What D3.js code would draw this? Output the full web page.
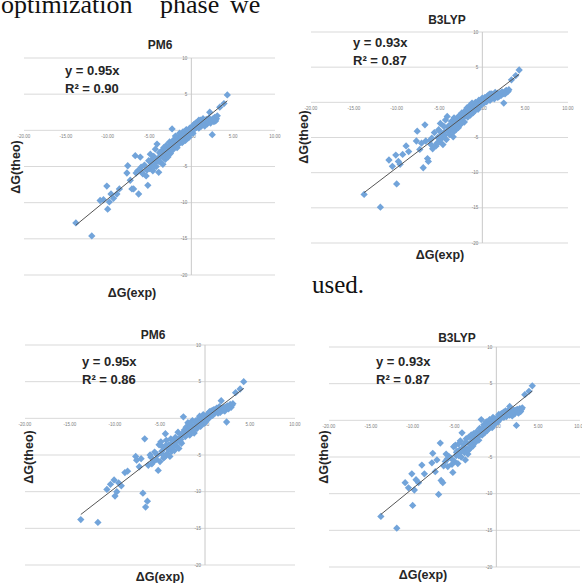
<!DOCTYPE html>
<html>
<head>
<meta charset="utf-8">
<script src="https://cdn.jsdelivr.net/npm/d3@7/dist/d3.min.js"></script>
<style>
    body { margin: 0; background: #fff; }
    svg { display: block; }
</style>
</head>
<body>
<div id="chart"></div>
<script>
// experimental dG, shared by all four panels
const dgExp = [
    -13.8, -11.9, -10.9, -10.5, -10.1, -10.0, -9.8, -9.6, -9.3, -8.9, -8.6,
    -7.7, -7.6, -7.3, -7.1, -6.9, -6.7, -6.6, -6.4, -6.3, -6.1, -6.0, -5.8, -5.6,
    -5.4, -5.2, -5.1, -5.0, -4.9, -4.8, -4.7, -4.6, -4.5, -4.4, -4.3, -4.2, -4.1, -4.0, -3.9, -3.8,
    -3.7, -3.6, -3.5, -3.4, -3.3, -3.2, -3.1, -3.0, -2.9, -2.8, -2.7, -2.6, -2.5, -2.4, -2.3, -2.2, -2.1,
    -2.0, -1.9, -1.8, -1.7, -1.6, -1.5, -1.4, -1.3, -1.2, -1.1, -1.0, -0.9, -0.8, -0.7, -0.6, -0.5,
    -0.4, -0.3, -0.2, -0.1, 0.0,
    0.1, 0.2, 0.3, 0.4, 0.5, 0.6, 0.7, 0.8, 0.9, 1.0, 1.1, 1.2, 1.3, 1.4, 1.5, 1.6, 1.7, 1.8, 1.9, 2.0,
    2.1, 2.2, 2.3, 2.4, 2.5, 2.6, 2.7, 2.8, 2.9, 3.0, 3.1,
    3.4, 3.9, 4.3,
    -4.75, -4.35, -3.95, -3.65, -3.35, -3.05, -2.75, -2.45, -2.15, -1.85, -1.55, -1.25, -0.95, -0.65,
    -0.35, -0.05, 0.25, 0.55, 0.85, 1.15, 1.45, 1.75, 2.05, 2.35, 2.65, -5.3, -5.9, -4.5, -1.0, 0.9, 1.6
];

const pm6TheoTop = [
    -12.8, -14.6, -9.7, -9.6, -7.7, -10.9, -9.9, -8.8, -9.4, -8.8, -8.1,
    -5.9, -4.9, -6.9, -8.1, -8.1, -3.5, -5.9, -5.6, -8.8, -3.7, -5.1, -6.0, -4.8,
    -6.3, -7.6, -4.2, -5.3, -3.3, -4.9, -4.0, -5.6, -3.6, -4.5, -2.6, -5.0, -1.9, -3.9, -5.8, -3.1,
    -4.4, -2.9, -3.6, -4.7, -2.4, -3.3, -4.0, -2.1, -3.0, -3.7, -2.5, -1.6, -3.2, -2.0, 0.2, -2.7, -1.3,
    -2.2, -0.8, -1.6, -2.4, -1.0, -1.9, -0.4, -1.3, -0.7, -1.7, -0.2, -1.1, -0.5, -1.4, 0.1, -0.8,
    -0.3, -1.0, 0.3, -0.5, 0.0,
    0.5, -0.4, 0.8, 0.2, 1.0, 0.4, 0.7, 1.2, 0.3, 0.9, 1.4, 0.6, 1.1, 1.6, 0.8, 1.3, 1.0, 1.5, 0.9, 1.2,
    1.7, 2.5, 1.0, 1.4, -0.6, 1.6, 1.2, 1.8, 1.3, 1.6, 2.0,
    3.2, 3.7, 4.9,
    -4.6, -3.9, -4.3, -3.4, -3.8, -2.8, -3.1, -2.4, -1.9, -2.0, -1.4, -1.1, -0.6, -0.9,
    -0.1, 0.2, 0.1, 0.6, 0.7, 0.9, 1.2, 1.4, 1.1, 1.3, 1.5, -5.5, -5.8, -5.1, -1.5, 1.4, 0.6
];

const b3lypTheoTop = [
    -13.1, -14.9, -8.2, -9.1, -7.5, -11.6, -8.4, -8.8, -7.4, -6.2, -7.0,
    -5.5, -4.1, -6.7, -5.8, -9.3, -3.2, -5.5, -8.0, -8.4, -5.4, -6.0, -6.6, -4.3,
    -6.2, -5.0, -3.9, -5.6, -3.0, -5.2, -4.4, -6.0, -3.4, -4.7, -2.5, -5.3, -2.0, -4.1, -3.3, -4.6,
    -3.8, -2.7, -3.5, -4.9, -2.2, -3.0, -3.9, -2.3, -2.8, -3.6, -1.9, -2.6, -3.1, -1.5, -2.3, -2.0, -2.8,
    -1.2, -1.7, -0.8, -2.1, -1.4, -0.5, -1.8, -1.0, -0.1, -1.5, -0.6, -1.2, 0.0, -0.9, -0.4, -1.0,
    0.3, -0.6, 0.1, -0.3, 0.6,
    0.2, -0.1, 0.7, 0.4, 0.1, 0.9, 0.5, 1.1, 0.3, 0.8, 1.2, 0.6, 1.0, 0.5, 1.4, 0.9, 1.2, 0.7, 1.1, 0.9,
    1.3, 1.0, 1.5, 1.2, -0.1, 1.4, 1.6, 1.7, 1.5, 1.55, 1.8,
    3.2, 3.8, 4.6,
    -4.5, -4.2, -3.6, -3.2, -4.2, -3.3, -2.5, -2.9, -1.7, -1.9, -1.1, -0.8, -0.7, -0.4,
    -0.2, 0.0, 0.5, 0.3, 0.9, 0.7, 1.0, 1.3, 1.1, 1.3, 1.2, -5.8, -5.1, -4.8, -1.3, 1.2, 0.8
];

const pm6TheoBottom = [
    -13.8, -14.2, -9.7, -9.0, -8.4, -10.6, -10.0, -8.8, -9.2, -7.4, -7.2,
    -5.2, -5.7, -6.6, -5.5, -10.2, -2.8, -12.1, -11.3, -6.4, -5.0, -5.3, -6.0, -4.6,
    -5.6, -7.1, -3.6, -5.9, -3.2, -4.5, -3.9, -5.4, -4.0, -2.1, -3.0, -4.8, -4.2, -3.6, -5.2, -2.8,
    -4.5, -3.3, -3.1, -4.4, -2.6, -3.7, -3.0, -1.9, -4.1, -2.6, -2.9, -3.4, -2.2, 0.2, -1.6, -2.5, -1.2,
    -2.0, -0.6, -1.5, -2.3, -0.9, -1.8, -0.3, -1.2, -2.0, -0.5, -1.0, -1.4, -0.2, -0.8, 0.3, -1.1,
    -0.4, -0.1, 0.5, -0.7, -0.5,
    0.1, -0.3, 0.6, 0.3, 0.9, 0.2, 1.0, 0.5, 0.8, 1.2, 0.7, 1.0, 1.4, 0.9, 1.2, 1.6, 0.8, 2.4, 1.3, 1.1,
    1.5, 1.0, 1.4, -0.5, 1.7, 1.3, 1.6, 1.9, 1.5, 1.8, 2.0,
    3.5, 4.0, 5.0,
    -4.9, -3.7, -4.1, -3.9, -3.2, -2.9, -3.2, -2.0, -2.4, -1.7, -1.3, -1.6, -0.5, -0.9,
    0.0, 0.3, -0.1, 0.6, 0.4, 1.1, 0.7, 1.3, 1.2, 1.6, 1.4, -5.0, -6.2, -5.3, -0.3, 1.1, 0.9
];

const b3lypTheoBottom = [
    -13.1, -14.7, -8.5, -9.2, -7.3, -11.6, -9.5, -8.1, -8.5, -6.1, -7.3,
    -5.8, -4.5, -7.0, -5.4, -10.1, -3.1, -8.2, -8.5, -6.2, -5.6, -4.6, -6.3, -5.0,
    -5.2, -7.1, -3.6, -5.6, -3.4, -4.8, -4.2, -5.9, -3.2, -4.5, -2.8, -5.0, -1.7, -4.0, -3.3, -4.4,
    -5.4, -2.5, -3.9, -4.6, -2.3, -3.2, -3.8, -2.0, -2.9, -3.5, -1.8, -2.5, -3.0, -1.6, -2.3, -2.1, -2.7,
    -1.1, -1.5, 0.1, -2.0, -1.3, -0.6, -1.7, -0.9, -0.2, -1.4, -0.5, -1.1, 0.1, -0.9, -0.3, -1.0,
    0.4, -0.6, 0.2, -0.4, 0.0,
    0.4, -0.2, 0.8, 0.3, 0.2, 0.9, 0.6, 1.0, 0.4, 0.7, 1.3, 0.5, 1.1, 0.8, 1.4, 1.9, 0.9, 1.2, 0.6, 1.0,
    1.4, 0.9, 1.2, -0.7, 1.5, 1.1, 1.3, 1.6, 1.2, 1.5, 1.7,
    3.5, 3.95, 4.7,
    -4.4, -4.0, -3.7, -3.0, -4.1, -3.4, -2.6, -2.8, -1.8, -1.9, -1.0, -0.8, -0.7, -0.5,
    -0.2, 0.1, 0.5, 0.4, 0.8, 0.9, 1.0, 1.1, 1.3, 1.4, 1.0, -6.0, -5.3, -4.8, -1.2, 1.1, 0.7
];

const methods = ["PM6", "B3LYP", "PM6", "B3LYP"];
const slopes = [0.95, 0.93, 0.95, 0.93];
const rSquared = [0.90, 0.87, 0.86, 0.87];
const xTicks = [-20, -15, -10, -5, 0, 5, 10];
const yTicks = [10, 5, 0, -5, -10, -15, -20];

const theoSeries = [pm6TheoTop, b3lypTheoTop, pm6TheoBottom, b3lypTheoBottom];

// where each panel sits on the page
const panels = [
    {x0: 24,  x1: 275, yTop: 58,  yBot: 275, title: [160, 49],  eq: [65, 75],   theo: [15, 167],  exp: [132, 297]},
    {x0: 311, x1: 568, yTop: 32,  yBot: 243, title: [447, 24],  eq: [353, 47],  theo: [303, 137], exp: [440, 259]},
    {x0: 25,  x1: 295, yTop: 345, yBot: 565, title: [153, 339], eq: [82, 366],  theo: [28, 457],  exp: [160, 581]},
    {x0: 329, x1: 580, yTop: 347, yBot: 567, title: [457, 342], eq: [376, 366], theo: [323, 457], exp: [423, 579]}
];

const svg = d3.select("#chart")
    .append("svg")
    .attr("width", 582)
    .attr("height", 583);

svg.append("rect")
    .attr("width", 582)
    .attr("height", 583)
    .attr("fill", "#fff");

// body text of the paper around the figures
const serif = "'Liberation Serif', 'Times New Roman', serif";
const topLine = svg.append("text")
    .attr("y", 13)
    .attr("font-family", serif)
    .attr("font-size", 26)
    .attr("fill", "#111");
topLine.append("tspan").attr("x", 1).text("optimization");
topLine.append("tspan").attr("x", 160).text("phase");
topLine.append("tspan").attr("x", 230).text("we");

svg.append("text")
    .attr("x", 312)
    .attr("y", 293)
    .attr("font-family", serif)
    .attr("font-size", 25)
    .attr("fill", "#111")
    .text("used.");

const sans = "'Liberation Sans', Arial, sans-serif";
const diamond = d3.symbol().type(d3.symbolDiamond2).size(34);

panels.forEach((p, i) => {
    const theo = theoSeries[i];
    const points = dgExp.map((d, j) => ({exp: d, theo: theo[j]}));

    const x = d3.scaleLinear().domain([-20, 10]).range([p.x0, p.x1]);
    const y = d3.scaleLinear().domain([10, -20]).range([p.yTop, p.yBot]);

    const g = svg.append("g");

    // horizontal gridlines
    g.selectAll(".grid")
        .data(yTicks)
        .enter()
        .append("line")
            .attr("x1", p.x0)
            .attr("x2", p.x1)
            .attr("y1", d => y(d))
            .attr("y2", d => y(d))
            .attr("stroke", "#d9d9d9")
            .attr("stroke-width", 1);

    // vertical axis through x = 0
    g.append("line")
        .attr("x1", x(0))
        .attr("x2", x(0))
        .attr("y1", y(10))
        .attr("y2", y(-20))
        .attr("stroke", "#c8c8c8")
        .attr("stroke-width", 1);

    // tiny tick labels, x along the zero line
    g.selectAll(".xlab")
        .data(xTicks)
        .enter()
        .append("text")
            .attr("x", d => x(d))
            .attr("y", y(0) + 8)
            .attr("text-anchor", "middle")
            .attr("font-family", sans)
            .attr("font-size", 4.5)
            .attr("fill", "#808080")
            .text(d => d3.format(".2f")(d).replace("−", "-"));

    g.selectAll(".ylab")
        .data(yTicks.filter(d => d != 0))
        .enter()
        .append("text")
            .attr("x", x(0) - 4)
            .attr("y", d => y(d) + 1.5)
            .attr("text-anchor", "end")
            .attr("font-family", sans)
            .attr("font-size", 4.5)
            .attr("fill", "#808080")
            .text(d => d);

    // points
    g.selectAll(".pt")
        .data(points)
        .enter()
        .append("path")
            .attr("d", diamond)
            .attr("transform", d => `translate(${x(d.exp)},${y(d.theo)})`)
            .attr("fill", "#72a4da");

    // linear trendline through origin
    const ext = d3.extent(dgExp);
    const line = d3.line().x(d => x(d)).y(d => y(slopes[i] * d));
    g.append("path")
        .datum(ext)
        .attr("d", line)
        .attr("fill", "none")
        .attr("stroke", "#555")
        .attr("stroke-width", 1);

    // texts
    g.append("text")
        .attr("x", p.title[0])
        .attr("y", p.title[1])
        .attr("text-anchor", "middle")
        .attr("font-family", sans)
        .attr("font-weight", "bold")
        .attr("font-size", 12)
        .attr("fill", "#262626")
        .text(methods[i]);

    g.append("text")
        .attr("x", p.eq[0])
        .attr("y", p.eq[1])
        .attr("font-family", sans)
        .attr("font-weight", "bold")
        .attr("font-size", 13)
        .attr("fill", "#262626")
        .text(`y = ${slopes[i].toFixed(2)}x`);

    g.append("text")
        .attr("x", p.eq[0])
        .attr("y", p.eq[1] + 18)
        .attr("font-family", sans)
        .attr("font-weight", "bold")
        .attr("font-size", 13)
        .attr("fill", "#262626")
        .text(`R² = ${rSquared[i].toFixed(2)}`);

    g.append("text")
        .attr("transform", `translate(${p.theo[0] + 4.5},${p.theo[1]}) rotate(-90)`)
        .attr("text-anchor", "middle")
        .attr("font-family", sans)
        .attr("font-weight", "bold")
        .attr("font-size", 12.5)
        .attr("fill", "#262626")
        .text("ΔG(theo)");

    g.append("text")
        .attr("x", p.exp[0])
        .attr("y", p.exp[1])
        .attr("text-anchor", "middle")
        .attr("font-family", sans)
        .attr("font-weight", "bold")
        .attr("font-size", 12.5)
        .attr("fill", "#262626")
        .text("ΔG(exp)");
});
</script>
</body>
</html>
